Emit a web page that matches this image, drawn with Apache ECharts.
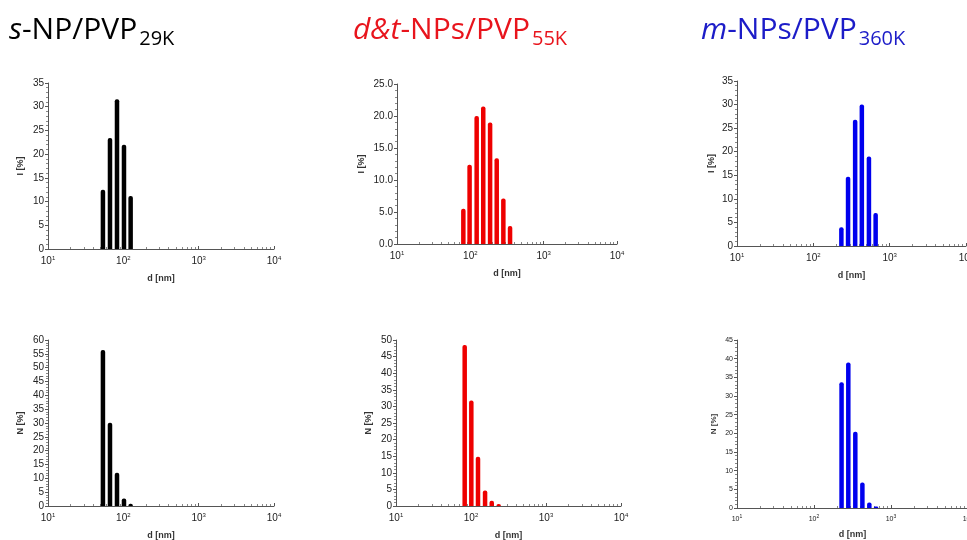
<!DOCTYPE html>
<html>
<head>
<meta charset="utf-8">
<script src="https://cdn.jsdelivr.net/npm/echarts@6/dist/echarts.min.js"></script>
<style>html,body{margin:0;padding:0;background:#fff;}#c{width:967px;height:540px;}</style>
</head>
<body>
<div id="c"></div>
<script>
// ---- data (d in nm, values in %) ----
const sNP_I_d = [53.6, 66.5, 82.4, 102, 125];
const sNP_I   = [12.5, 23.4, 31.6, 22.0, 11.2];
const sNP_N_d = [53.6, 66.5, 82.4, 102, 125];
const sNP_N   = [56.4, 30.1, 12.0, 2.7, 0.8];

const dtNP_I_d = [80.3, 97.7, 122, 150, 186, 229, 282, 348];
const dtNP_I   = [5.5, 12.4, 20.0, 21.5, 19.0, 13.4, 7.1, 2.8];
const dtNP_N_d = [82.4, 101, 124, 154, 189, 234];
const dtNP_N   = [48.5, 31.8, 14.8, 4.7, 1.6, 0.6];

const mNP_I_d = [233, 285, 353, 432, 535, 655];
const mNP_I   = [4.0, 14.7, 26.8, 30.0, 19.0, 7.0];
const mNP_N_d = [228, 279, 344, 425, 523, 639];
const mNP_N   = [33.7, 39.0, 20.4, 6.8, 1.5, 0.4];

const xTickLabels = {10: '{b|10}{s|1}', 100: '{b|10}{s|2}', 1000: '{b|10}{s|3}', 10000: '{b|10}{s|4}'};
const yMax = [35, 25, 35, 60, 50, 45];
const yNames = ['I [%]', 'I [%]', 'I [%]', 'N [%]', 'N [%]', 'N [%]'];

const black = '#000000', red = '#ee0000', blue = '#0000ee';
const panels = [
  {d: sNP_I_d, v: sNP_I, color: black, grid: {left: 48, top: 83, width: 226, height: 166}, dec: 0, fs: 10, ng: 23},
  {d: dtNP_I_d, v: dtNP_I, color: red, grid: {left: 397, top: 84, width: 220, height: 160}, dec: 1, fs: 10, ng: 31},
  {d: mNP_I_d, v: mNP_I, color: blue, grid: {left: 737, top: 81, width: 229, height: 165}, dec: 0, fs: 10, ng: 21},
  {d: sNP_N_d, v: sNP_N, color: black, grid: {left: 48, top: 340, width: 226, height: 166}, dec: 0, fs: 10, ng: 23},
  {d: dtNP_N_d, v: dtNP_N, color: red, grid: {left: 396, top: 340, width: 225, height: 166}, dec: 0, fs: 10, ng: 23},
  {d: mNP_N_d, v: mNP_N, color: blue, grid: {left: 737, top: 340, width: 231, height: 168}, dec: 0, fs: 7, ng: 19}
];

const axisColor = '#555';
const lblFont = 'Liberation Sans, Arial, sans-serif';

const grids = [], xAxes = [], yAxes = [], series = [];
panels.forEach((p, i) => {
  grids.push(Object.assign({outerBoundsMode: 'none', containLabel: false}, p.grid));
  xAxes.push({
    type: 'log', logBase: 10, min: 10, max: 10000, gridIndex: i,
    name: 'd [nm]', nameLocation: 'middle', nameGap: i === 5 ? 22 : 25,
    nameTextStyle: {fontSize: 9, fontWeight: 'bold', color: '#333', fontFamily: lblFont},
    axisLine: {lineStyle: {color: axisColor, width: 1}},
    axisTick: {show: true, length: 3, inside: true, lineStyle: {color: axisColor}},
    minorTick: {show: true, splitNumber: 9, length: 2, lineStyle: {color: '#888'}},
    splitLine: {show: false}, minorSplitLine: {show: false},
    axisLabel: {
      margin: 6, color: '#222', fontFamily: lblFont, hideOverlap: false,
      formatter: v => xTickLabels[Math.round(v)] || '',
      rich: {
        b: {fontSize: p.fs === 7 ? 7 : 10, fontFamily: lblFont, color: '#222'},
        s: {fontSize: p.fs === 7 ? 5 : 6, fontFamily: lblFont, color: '#222', verticalAlign: 'top', padding: [0, 0, 6, 0]}
      }
    }
  });
  yAxes.push({
    type: 'value', min: 0, max: yMax[i], interval: 5, gridIndex: i,
    name: yNames[i], nameLocation: 'middle', nameGap: p.ng, nameRotate: 90,
    nameTextStyle: {fontSize: p.fs === 7 ? 8 : 9, fontWeight: 'bold', color: '#333', fontFamily: lblFont},
    axisLine: {show: true, lineStyle: {color: axisColor, width: 1}},
    axisTick: {show: true, length: 3, lineStyle: {color: axisColor}},
    minorTick: {show: true, splitNumber: 5, length: 2, lineStyle: {color: '#888'}},
    splitLine: {show: false},
    axisLabel: {fontSize: p.fs, margin: 4, color: '#222', fontFamily: lblFont,
      formatter: v => p.dec ? v.toFixed(1) : String(v)}
  });
  series.push({
    type: 'bar', xAxisIndex: i, yAxisIndex: i, barWidth: 4.5, silent: true,
    itemStyle: {color: p.color, borderRadius: [2, 2, 0, 0]},
    data: p.d.map((d, k) => [d, p.v[k]]),
    animation: false
  });
});

const titleFont = 'Open Sans, Noto Sans, sans-serif';
function mkTitle(left, color, it, rest, sub) {
  const base = {color: color, fontFamily: titleFont, fontWeight: 'normal'};
  return {
    left: left, top: 11, padding: 0,
    text: '{i|' + it + '}{n|' + rest + '}{s|' + sub + '}',
    textStyle: {
      fontWeight: 'normal',
      rich: {
        i: Object.assign({fontSize: 30, fontStyle: 'italic', lineHeight: 38, verticalAlign: 'middle'}, base),
        n: Object.assign({fontSize: 30, lineHeight: 38, verticalAlign: 'middle'}, base),
        s: Object.assign({fontSize: 20, lineHeight: 20, verticalAlign: 'bottom', padding: [0, 0, 0, 2]}, base)
      }
    }
  };
}

const chart = echarts.init(document.getElementById('c'), null, {renderer: 'canvas'});
chart.setOption({
  backgroundColor: '#fff',
  animation: false,
  title: [
    mkTitle(9, '#000', 's', '-NP/PVP', '29K'),
    mkTitle(353, '#e8141c', 'd&t', '-NPs/PVP', '55K'),
    mkTitle(701, '#1c1cc8', 'm', '-NPs/PVP', '360K')
  ],
  grid: grids, xAxis: xAxes, yAxis: yAxes, series: series
});
</script>
</body>
</html>
